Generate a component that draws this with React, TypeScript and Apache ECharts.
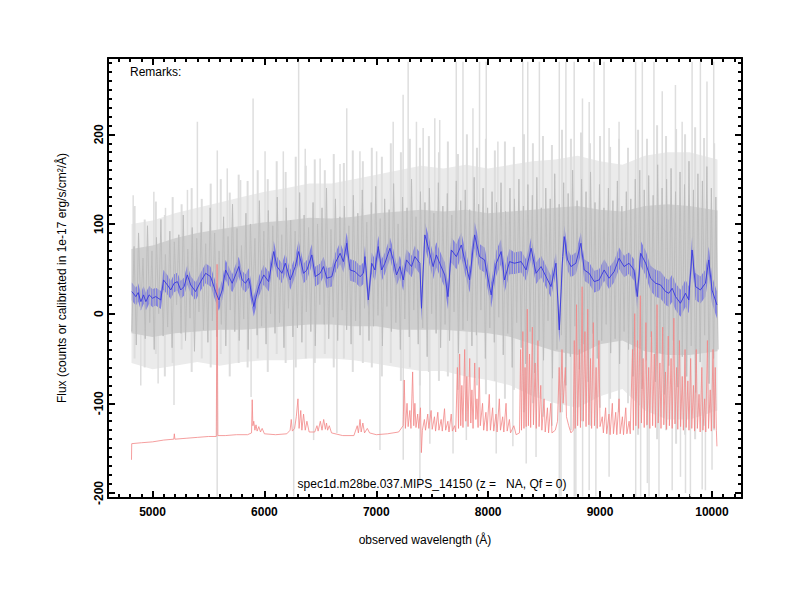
import React, { useEffect, useRef } from 'react';
import * as echarts from 'echarts';

const X_MIN = 4602;
const X_MAX = 10269;
const Y_MIN = -205.6;
const Y_MAX = 285.1;

const xMajorTicks = [5000, 6000, 7000, 8000, 9000, 10000];
const yMajorTicks = [-200, -100, 0, 100, 200];
const xMinorTicks: number[] = [];
for (let v = 4700; v <= 10200; v += 100) xMinorTicks.push(v);
const yMinorTicks: number[] = [];
for (let v = -200; v <= 280; v += 10) yMinorTicks.push(v);

const titleText = 'spec1d.m28be.037.MIPS_14150 (z =   NA, Qf = 0)';
const remarksText = 'Remarks:';
const xName = 'observed wavelength (Å)';
const yName = 'Flux (counts or calibrated in 1e-17 erg/s/cm²/Å)';

// raw spectrum, sampled every 20 Å from 4815 Å
const grayStart = 4815;
const grayStep = 20;
const grayFlux: number[] = [
  -20, 75, -35, 90, 5, 62, -28, 98, -10, 70, -40, 85, 0, 105, -25, 66, -15, 92, -38, 80,
  10, 88, -22, 110, -30, 72, -5, 96, -42, 84, 2, 102, -18, 78, -32, 118, -8, 90, -26, 70,
  -12, 108, -36, 86, 4, 122, -20, 95, -30, 76, -6, 112, -40, 100, 8, 84, -24, 126, -14, 92,
  -34, 115, 0, 98, -22, 130, -10, 88, -38, 118, 6, 104, -26, 92, -16, 135, -32, 110, 2, 96,
  -20, 124, -36, 100, 10, 118, -12, 140, -28, 94, -4, 128, -30, 108, 4, 120, -18, 98, -34, 132,
  -8, 112, -24, 138, 6, 102, -30, 124, -14, 142, -2, 106, -36, 128, 8, 116, -20, 145, -10, 100,
  -40, 130, -6, 118, -26, 150, 4, 108, -34, 136, -16, 124, -48, 140, 0, 112, -22, 146, -38, 120,
  -12, 134, -30, 110, 2, 148, -44, 126, -18, 138, -8, 116, -36, 152, -24, 122, 4, 140, -50, 118,
  -16, 136, -32, 124, -4, 146, -46, 114, -22, 140, -60, 128, -10, 150, -38, 120, -56, 144, -20, 132,
  -66, 152, -30, 118, -52, 140, -8, 128, -72, 156, -40, 122, -24, 146, -80, 134, -48, 160, -14, 126,
  -62, 150, -34, 136, -76, 158, -22, 124, -50, 144, -30, 118, -12, 140, -44, 126, -28, 148, -56, 120,
  -20, 136, -40, 128, -70, 150, -36, 160, -84, 138, -52, 154, -26, 132, -76, 166, -44, 140, -90, 150,
  -58, 162, -30, 136, -82, 158, -48, 144, -70, 170, -36, 138, -88, 156, -54, 148, -24, 164, -78, 140,
  -50, 130, -40,
];

// gray envelopes [wavelength, low, high]
const grayOuter: number[][] = [
  [4812, -55, 100], [5000, -62, 104], [5200, -58, 112], [5400, -54, 118], [5600, -58, 124],
  [5800, -54, 130], [6000, -52, 136], [6200, -52, 140], [6400, -50, 145], [6600, -50, 145],
  [6800, -52, 150], [7000, -56, 155], [7200, -60, 160], [7400, -64, 165], [7600, -64, 162],
  [7800, -70, 166], [8000, -74, 162], [8200, -80, 166], [8400, -92, 170], [8600, -100, 172],
  [8800, -105, 176], [9000, -92, 170], [9200, -84, 166], [9400, -108, 176], [9600, -118, 180],
  [9800, -118, 180], [10050, -108, 172],
];
const grayCore: number[][] = [
  [4812, -22, 72], [5000, -26, 76], [5200, -22, 84], [5400, -20, 90], [5600, -18, 94],
  [5800, -18, 98], [6000, -16, 102], [6200, -14, 104], [6400, -12, 107], [6600, -12, 106],
  [6800, -14, 108], [7000, -14, 112], [7200, -18, 114], [7400, -18, 116], [7600, -18, 114],
  [7800, -20, 116], [8000, -22, 112], [8200, -26, 114], [8400, -34, 116], [8600, -42, 118],
  [8800, -46, 120], [9000, -34, 116], [9200, -30, 114], [9400, -42, 120], [9600, -46, 122],
  [9800, -46, 120], [10050, -42, 115],
];
// lighter gray streaks [wavelength, low, high]
const grayStreaks: number[][] = [
  [4840, -50, 120], [4930, -60, 105], [5030, -45, 125], [5110, -70, 110], [5180, -55, 130],
  [5260, -40, 122], [5350, -65, 140], [5440, -50, 128], [5520, -60, 145], [5610, -45, 150],
  [5690, -70, 135], [5770, -55, 155], [5850, -60, 148], [5940, -50, 160], [6030, -65, 150],
  [6110, -45, 170], [6190, -55, 158], [6280, -60, 175], [6370, -50, 165], [6450, -55, 172],
  [6540, -45, 160], [6620, -60, 178], [6710, -50, 168], [6790, -65, 182], [6880, -55, 170],
  [6960, -60, 185], [7050, -70, 175], [7130, -55, 190], [7220, -75, 180], [7300, -60, 195],
  [7390, -80, 185], [7470, -65, 198], [7560, -75, 180], [7640, -70, 192], [7730, -85, 178],
  [7810, -70, 200], [7900, -80, 185], [7980, -90, 195], [8060, -75, 182], [8150, -95, 192],
  [8230, -85, 186], [8320, -110, 200], [8400, -100, 190], [8490, -115, 198], [8570, -125, 188],
  [8660, -110, 205], [8740, -130, 195], [8830, -120, 202], [8910, -125, 190], [9000, -105, 198],
  [9090, -95, 186], [9170, -110, 195], [9250, -100, 185], [9340, -135, 205], [9420, -125, 195],
  [9510, -140, 210], [9590, -130, 198], [9680, -145, 206], [9760, -135, 200], [9850, -140, 208],
  [9930, -125, 196], [10020, -130, 190],
];
// light gray tall spikes [wavelength, low, high]
const graySpikes: number[][] = [
  [4827, 0, 132], [5012, 0, 136], [5116, 0, 118], [5312, 0, 138], [5401, 0, 214], [5579, 0, 182],
  [5668, 0, 162], [5787, 0, 149], [5899, 0, 240], [6006, 0, 181], [6169, 0, 181], [6306, 0, 281],
  [6365, 0, 184], [6498, 0, 173], [6676, 0, 167], [6736, 0, 229], [6854, 0, 181], [7003, 0, 181],
  [7151, 0, 214], [7240, 0, 244], [7285, 0, 281], [7359, 0, 214], [7419, 0, 207], [7523, 0, 218],
  [7567, 0, 216], [7715, 0, 281], [7775, 0, 281], [7864, 0, 229], [7923, 0, 281], [7983, 0, 281],
  [8087, 0, 192], [8309, 0, 281], [8354, 0, 281], [8458, 0, 281], [8636, 0, 281], [8695, 0, 281],
  [8769, 0, 281], [8843, 0, 240], [8903, 0, 236], [8947, 0, 281], [9036, 0, 281], [9081, 0, 207],
  [9170, 0, 214], [9318, 0, 281], [9378, 0, 281], [9482, 0, 281], [9556, 0, 248], [9674, 0, 255],
  [9734, 0, 214], [9823, 0, 281], [9897, 0, 281], [9956, 0, 259], [10016, 0, 281],
  [4895, -80, 0], [5050, -78, 0], [5192, -102, 0], [5578, -204, 0], [5881, -93, 0], [6262, -204, 0],
  [6440, -141, 0], [6648, -133, 0], [7033, -152, 0], [7241, -163, 0], [7390, -193, 0], [7479, -145, 0],
  [7686, -156, 0], [7805, -141, 0], [8072, -156, 0], [8221, -148, 0], [8340, -167, 0], [8428, -160, 0],
  [8636, -204, 0], [8651, -204, 0], [8770, -204, 0], [8784, -204, 0], [8844, -204, 0], [8903, -197, 0],
  [8963, -204, 0], [9081, -182, 0], [9319, -204, 0], [9363, -204, 0], [9423, -189, 0], [9438, -204, 0],
  [9527, -204, 0], [9645, -197, 0], [9719, -182, 0], [9764, -200, 0], [9808, -204, 0], [9913, -196, 0],
  [9942, -197, 0], [10001, -174, 0],
];

// smoothed spectrum [wavelength, flux, error]
const blueSpec: number[][] = [
  [4815, 24.6, 10], [4851, 19.0, 10], [4872, 23.5, 10], [4896, 13.4, 10], [4920, 20.9, 10], [4940, 13.4, 10],
  [4970, 20.9, 10], [5000, 17.2, 10], [5029, 19.0, 10], [5074, 15.3, 10], [5098, 37.6, 11], [5133, 32.0, 11],
  [5163, 26.4, 10], [5193, 33.9, 10], [5222, 35.7, 10], [5252, 26.4, 10], [5282, 30.2, 10], [5311, 43.2, 11],
  [5341, 32.0, 10], [5385, 24.6, 10], [5430, 35.7, 10], [5475, 45.0, 11], [5519, 41.3, 11], [5564, 24.6, 11],
  [5593, 15.3, 12], [5623, 26.4, 11], [5653, 48.7, 11], [5682, 41.3, 11], [5712, 33.9, 10], [5742, 43.2, 11],
  [5771, 52.5, 11], [5801, 37.6, 10], [5831, 33.9, 10], [5860, 39.5, 11], [5905, 7.9, 11], [5949, 30.2, 11],
  [5994, 43.2, 11], [6038, 35.7, 11], [6083, 69.2, 12], [6113, 52.5, 11], [6157, 45.0, 11], [6187, 56.2, 11],
  [6231, 37.6, 11], [6276, 52.5, 11], [6306, 69.2, 12], [6350, 45.0, 11], [6380, 48.7, 11], [6424, 65.5, 12],
  [6454, 41.3, 11], [6499, 45.0, 11], [6528, 52.5, 11], [6558, 39.5, 11], [6603, 41.3, 11], [6632, 56.2, 11],
  [6677, 67.3, 12], [6706, 58.0, 12], [6736, 78.5, 12], [6766, 48.7, 12], [6810, 46.9, 12], [6855, 41.3, 12],
  [6885, 45.0, 12], [6899, 63.6, 12], [6929, 15.3, 12], [6959, 56.2, 12], [6988, 48.7, 12], [7018, 74.8, 12],
  [7048, 48.7, 12], [7077, 56.2, 12], [7122, 72.9, 12], [7152, 59.9, 12], [7181, 43.2, 12], [7211, 52.5, 12],
  [7241, 37.6, 12], [7270, 59.9, 12], [7315, 52.5, 12], [7345, 63.6, 12], [7389, 56.2, 12], [7404, 6.0, 14],
  [7434, 87.8, 14], [7463, 74.8, 14], [7508, 52.5, 14], [7537, 65.5, 14], [7567, 56.2, 14], [7612, 43.2, 14],
  [7641, 19.0, 14], [7671, 71.0, 14], [7716, 63.6, 14], [7760, 76.6, 14], [7790, 59.9, 14], [7834, 37.6, 14],
  [7879, 87.8, 15], [7923, 63.6, 14], [7968, 59.9, 14], [8027, 20.9, 14], [8072, 56.2, 14], [8116, 69.2, 14],
  [8146, 37.6, 14], [8191, 58.0, 14], [8235, 56.2, 12], [8295, 58.0, 12], [8339, 48.7, 12], [8384, 72.9, 12],
  [8428, 45.0, 12], [8473, 52.5, 12], [8517, 41.3, 12], [8562, 30.2, 12], [8606, 56.2, 12], [8636, -18.2, 14],
  [8666, 63.6, 12], [8680, 85.9, 12], [8710, 59.9, 12], [8740, 52.5, 12], [8784, 56.2, 12], [8829, 78.5, 12],
  [8859, 48.7, 12], [8903, 45.0, 12], [8948, 35.7, 12], [8992, 37.6, 12], [9037, 48.7, 12], [9081, 39.5, 12],
  [9126, 46.9, 12], [9170, 61.8, 12], [9215, 52.5, 12], [9259, 56.2, 12], [9304, 48.7, 12], [9333, 19.0, 14],
  [9363, 67.3, 14], [9408, 56.2, 14], [9452, 39.5, 14], [9497, 33.9, 15], [9541, 32.0, 15], [9586, 24.6, 15],
  [9615, 22.7, 15], [9645, 28.3, 15], [9675, 19.0, 15], [9719, 11.6, 15], [9764, 22.7, 15], [9793, 15.3, 15],
  [9823, 71.0, 15], [9853, 30.2, 15], [9897, 26.4, 15], [9942, 33.9, 15], [9972, 59.9, 15], [10001, 26.4, 15],
  [10045, 9.7, 15],
];

// sky / noise spectrum [wavelength, value]
const redSky: number[][] = [
  [4812, -163], [4814, -145], [4900, -144], [5000, -143], [5100, -141], [5190, -140], [5195, -134], [5200, -140],
  [5300, -139], [5400, -138], [5500, -137], [5570, -137], [5577, 55], [5584, -136], [5650, -136], [5750, -135],
  [5850, -135], [5885, -133], [5891, -96], [5897, -125], [5905, -120], [5915, -130], [5925, -124], [5935, -131],
  [5950, -126], [5965, -132], [5980, -128], [6000, -134], [6100, -135], [6200, -134], [6230, -130], [6240, -118],
  [6250, -131], [6270, -128], [6285, -115], [6300, -95], [6310, -128], [6325, -108], [6335, -130], [6350, -112],
  [6365, -130], [6380, -120], [6400, -132], [6450, -132], [6470, -125], [6480, -131], [6500, -120], [6515, -130],
  [6530, -118], [6545, -129], [6555, -122], [6565, -130], [6580, -125], [6600, -133], [6700, -136], [6800, -136],
  [6830, -125], [6840, -133], [6855, -118], [6865, -132], [6880, -122], [6895, -133], [6920, -128], [6940, -133],
  [7000, -135], [7100, -134], [7200, -132], [7240, -125], [7250, -74], [7260, -128], [7275, -100], [7285, -126],
  [7300, -108], [7310, -128], [7325, -65], [7335, -125], [7345, -100], [7355, -127], [7370, -112], [7380, -128],
  [7395, -105], [7403, -155], [7412, -130], [7430, -118], [7440, -130], [7460, -112], [7470, -128], [7490, -108],
  [7500, -129], [7520, -115], [7530, -131], [7550, -110], [7560, -130], [7580, -118], [7590, -131], [7610, -106],
  [7620, -130], [7640, -120], [7650, -132], [7670, -112], [7680, -131], [7700, -125], [7710, -132], [7725, -60],
  [7735, -128], [7745, -45], [7755, -125], [7765, -80], [7775, -127], [7790, -40], [7800, -120], [7810, -70],
  [7820, -126], [7835, -50], [7845, -122], [7855, -85], [7865, -128], [7880, -55], [7890, -118], [7900, -95],
  [7910, -127], [7920, -60], [7930, -125], [7950, -100], [7960, -130], [7980, -110], [7990, -131], [8010, -90],
  [8020, -130], [8040, -105], [8050, -131], [8070, -112], [8080, -132], [8100, -95], [8110, -130], [8130, -115],
  [8140, -132], [8160, -100], [8170, -131], [8190, -118], [8200, -133], [8230, -125], [8250, -135], [8280, -133],
  [8290, -40], [8298, -130], [8310, -20], [8320, -128], [8330, -60], [8340, -126], [8350, 5], [8360, -125],
  [8370, -45], [8380, -127], [8395, -15], [8405, -124], [8420, -55], [8430, -128], [8445, -30], [8455, -126],
  [8470, -80], [8480, -130], [8500, -95], [8510, -132], [8530, -105], [8540, -133], [8560, -100], [8570, -133],
  [8600, -130], [8620, -120], [8635, -60], [8645, -110], [8660, -40], [8670, -100], [8690, -60], [8700, -115],
  [8720, -125], [8740, -133], [8760, -130], [8770, -30], [8778, -128], [8790, 10], [8800, -125], [8815, -40],
  [8825, -127], [8840, 30], [8850, -120], [8865, -20], [8875, -126], [8890, 5], [8900, -124], [8915, -50],
  [8925, -128], [8940, -10], [8950, -125], [8965, -60], [8975, -128], [8990, -30], [9000, -126], [9020, -115],
  [9030, -133], [9050, -105], [9060, -134], [9080, -112], [9090, -135], [9110, -100], [9120, -134], [9140, -110],
  [9150, -135], [9170, -95], [9180, -134], [9200, -115], [9210, -135], [9230, -105], [9240, -134], [9260, -120],
  [9270, -134], [9290, -40], [9298, -130], [9310, 0], [9320, -125], [9335, -30], [9345, -128], [9360, 20],
  [9370, -122], [9385, -50], [9395, -127], [9410, -10], [9420, -124], [9435, -60], [9445, -128], [9460, -20],
  [9470, -125], [9485, -45], [9495, -127], [9510, 10], [9520, -122], [9535, -55], [9545, -128], [9560, -15],
  [9570, -124], [9585, -65], [9595, -129], [9610, -25], [9620, -125], [9635, -50], [9645, -128], [9660, -5],
  [9670, -123], [9685, -60], [9695, -129], [9710, -30], [9720, -126], [9735, -70], [9745, -130], [9760, -40],
  [9770, -127], [9785, -75], [9795, -130], [9810, -50], [9820, -128], [9835, -80], [9845, -131], [9860, -40],
  [9870, -128], [9885, -90], [9895, -132], [9910, -60], [9920, -130], [9935, -95], [9945, -132], [9960, -30],
  [9970, -128], [9985, -85], [9995, -131], [10010, -40], [10020, -128], [10030, -60], [10040, -130], [10045, -148],
];

const FONT = 'Liberation Sans, Arial, Helvetica, sans-serif';

function bandSeries(rows: number[][], fill: string, opacity = 1) {
  return {
    type: 'custom',
    silent: true,
    clip: true,
    data: [[rows[0][0], rows[0][1]]],
    renderItem: (_p: any, api: any) => {
      const up = rows.map((r) => api.coord([r[0], r[2]]));
      const dn = rows.slice().reverse().map((r) => api.coord([r[0], r[1]]));
      return { type: 'polygon', shape: { points: up.concat(dn) }, style: { fill, opacity } };
    },
  };
}

function segSeries(rows: number[][], stroke: string, width: number) {
  return {
    type: 'custom',
    silent: true,
    clip: true,
    data: rows,
    encode: { x: 0, y: [1, 2] },
    renderItem: (_p: any, api: any) => {
      const a = api.coord([api.value(0), api.value(1)]);
      const b = api.coord([api.value(0), api.value(2)]);
      return {
        type: 'line',
        shape: { x1: a[0], y1: a[1], x2: b[0], y2: b[1] },
        style: { stroke, lineWidth: width },
      };
    },
  };
}

function tickAxis(kind: 'x' | 'y', position: string, values: number[], len: number, line: boolean, labels: boolean) {
  const isX = kind === 'x';
  return {
    type: 'value',
    min: isX ? X_MIN : Y_MIN,
    max: isX ? X_MAX : Y_MAX,
    position,
    axisLine: { show: line, onZero: false, lineStyle: { color: '#000', width: 2 } },
    axisTick: { show: true, inside: true, length: len, customValues: values, lineStyle: { color: '#000', width: 2 } },
    axisLabel: labels
      ? {
          show: true,
          customValues: values,
          formatter: (v: number) => String(v),
          fontFamily: FONT,
          fontWeight: 'bold',
          fontSize: 12,
          color: '#000',
          margin: isX ? 14 : 9,
          rotate: isX ? 0 : 90,
          verticalAlign: 'middle',
        }
      : { show: false },
    splitLine: { show: false },
    minorTick: { show: false },
  };
}

export default function App() {
  const ref = useRef<HTMLDivElement>(null);
  useEffect(() => {
    document.body.style.margin = '0';
    if (!ref.current) return;
    const chart = echarts.init(ref.current, undefined, { renderer: 'svg' });
    const blueBand = blueSpec.map((r) => [r[0], r[1] - r[2], r[1] + r[2]]);
    const grayLine = grayFlux.map((v, i) => [grayStart + i * grayStep, v]);
    chart.setOption({
      animation: false,
      backgroundColor: '#fff',
      grid: { left: 108, right: 58, top: 58, bottom: 102, containLabel: false },
      xAxis: [
        tickAxis('x', 'bottom', xMajorTicks, 7, true, true),
        tickAxis('x', 'bottom', xMinorTicks, 4, false, false),
        tickAxis('x', 'top', xMajorTicks, 7, true, false),
        tickAxis('x', 'top', xMinorTicks, 4, false, false),
      ],
      yAxis: [
        tickAxis('y', 'left', yMajorTicks, 7, true, true),
        tickAxis('y', 'left', yMinorTicks, 4, false, false),
        tickAxis('y', 'right', yMajorTicks, 7, true, false),
        tickAxis('y', 'right', yMinorTicks, 4, false, false),
      ],
      series: [
        bandSeries(grayOuter, '#ebebeb'),
        segSeries(graySpikes, '#dedede', 1.5),
        segSeries(grayStreaks, '#dddddd', 2),
        bandSeries(grayCore, '#cfcfcf'),
        {
          type: 'line',
          data: grayLine,
          showSymbol: false,
          silent: true,
          lineStyle: { color: '#bdbdbd', width: 1 },
        },
        {
          type: 'line',
          data: redSky,
          showSymbol: false,
          silent: true,
          lineStyle: { color: '#f28686', width: 0.8 },
        },
        bandSeries(blueBand, 'rgb(90,90,230)', 0.68),
        {
          type: 'line',
          data: blueSpec.map((r) => [r[0], r[1]]),
          showSymbol: false,
          silent: true,
          lineStyle: { color: '#3838dc', width: 0.9 },
        },
      ],
      graphic: [
        { type: 'text', z: 100, x: 130, y: 72, style: { text: remarksText, font: `12px ${FONT}`, fill: '#000', verticalAlign: 'middle' } },
        { type: 'text', z: 100, x: 432, y: 484, style: { text: titleText, font: `12px ${FONT}`, fill: '#000', align: 'center', verticalAlign: 'middle' } },
        { type: 'text', z: 100, x: 425, y: 540, style: { text: xName, font: `12px ${FONT}`, fill: '#000', align: 'center', verticalAlign: 'middle' } },
        {
          type: 'text', z: 100, x: 62, y: 278, rotation: Math.PI / 2,
          style: { text: yName, font: `12px ${FONT}`, fill: '#000', align: 'center', verticalAlign: 'middle' },
        },
      ],
    });
    return () => chart.dispose();
  }, []);
  return <div ref={ref} style={{ width: 800, height: 600 }} />;
}
